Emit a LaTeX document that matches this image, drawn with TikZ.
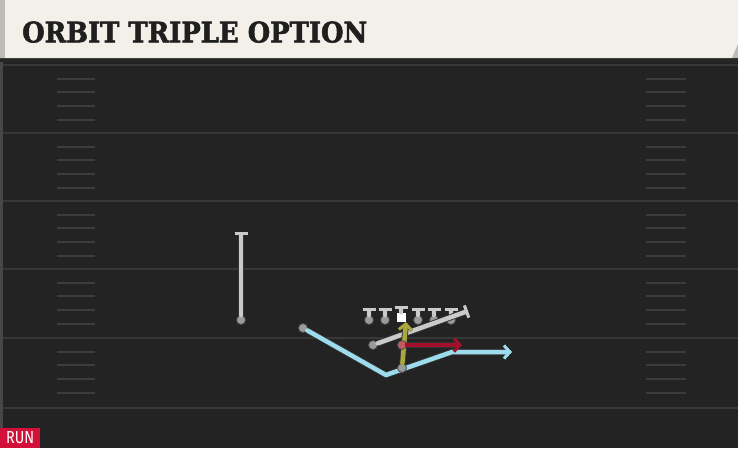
\documentclass[tikz,border=0pt]{standalone}
\usepackage{fontspec}
\newfontfamily\titlefont[UprightFont={* Bold}, FakeBold=2]{DejaVu Serif}
\newfontfamily\tagfont{Fira Sans}
\usetikzlibrary{arrows.meta}
\definecolor{fieldgray}{HTML}{232323}
\definecolor{yardline}{HTML}{373737}
\definecolor{hashgray}{HTML}{3C3C3C}
\definecolor{headcream}{HTML}{F3F0EA}
\definecolor{headedge}{HTML}{BDBBB5}
\definecolor{routeblue}{HTML}{9CDCEC}
\definecolor{routered}{HTML}{A30F2A}
\definecolor{routeolive}{HTML}{A9A73E}
\definecolor{blockgray}{HTML}{CACACA}
\definecolor{dotgray}{HTML}{9B9B9B}
\definecolor{runred}{HTML}{D3103A}
\tikzstyle{player} = [circle, fill=dotgray, draw=black!70, line width=0.8pt, inner sep=0pt, minimum size=9pt]
\tikzstyle{snapper} = [rectangle, fill=white, inner sep=0pt, minimum size=9pt]
\tikzstyle{hash} = [draw=hashgray, line width=1.5pt]
\tikzset{
  route/.style ={draw, line width=4.5pt, line cap=round, preaction={draw=black!80, line width=6.3pt}},
  block/.style ={route, color=blockgray, -{Bar[width=13pt,line width=3pt]}},
  run/.style ={route, -{Straight Barb[length=6pt,width=13pt,line width=3pt]}}
}

\begin{document}
\begin{tikzpicture}[x=1pt, y=-1pt]
   \useasboundingbox (0,0) rectangle (738,448);
   % field and header
   \fill [fieldgray] (0,58) rectangle (738,448);
   \fill [black!72] (0,58) rectangle (3,448);
   \fill [black!85] (0,57) rectangle (738,62);
   \fill [headcream] (0,0) -- (738,0) -- (738,44) -- (732,58) -- (0,58) -- cycle;
   \fill [headedge] (0,0) rectangle (5,58);
   \fill [headedge] (738,44) -- (738,58) -- (732,58) -- cycle;
   \node [anchor=south west, inner sep=0pt, text=black!88] (title) at (22,43)
      {\resizebox{345pt}{21pt}{\titlefont ORBIT TRIPLE OPTION}};
   % yard lines and hash marks
   \foreach \y in {65,133,201,269,338,408}
      \draw [yardline, line width=2pt] (3,\y) -- (738,\y);
   \foreach \y in {65,133,201,269,338}
      \foreach \d in {14,27,41,55} {
         \draw [hash] (57,\y+\d) -- (95,\y+\d);
         \draw [hash] (646,\y+\d) -- (686,\y+\d);
      }
   % receiver
   \node [player] (wr) at (241,320) {};
   \coordinate (wr_b) at (241,232);
   \path [block] (wr) -- (wr_b);
   % line
   \foreach \n/\x in {lt/369,lg/385,rg/418,rt/434,te/451} {
      \node [player] (\n) at (\x,320) {};
      \coordinate (\n_b) at (\x,308);
      \path [block] (\n) -- (\n_b);
   }
   \node [snapper] (c) at (401,317) {};
   \coordinate (c_b) at (401,306);
   \path [block] (c) -- (c_b);
   % wing block
   \node [player] (wing) at (373,345) {};
   \coordinate (wing_b) at (468,311);
   \path [block] (wing) -- (wing_b);
   % orbit motion
   \node [player] (slot) at (303,328) {};
   \coordinate (slot_dip) at (386,375);
   \coordinate (slot_turn) at (452,352);
   \coordinate (slot_end) at (512,352);
   \path [run, color=routeblue, line join=round] (slot) -- (slot_dip) -- (slot_turn) -- (slot_end);
   % dive and keep
   \node [player] (rb) at (402,368) {};
   \coordinate (rb_end) at (406,322);
   \path [run, color=routeolive] (rb) -- (rb_end);
   \node [player, fill=red!40!dotgray] (qb) at (402,345) {};
   \coordinate (qb_end) at (462,345);
   \path [run, color=routered] (qb) -- (qb_end);
   % tag
   \fill [runred] (0,428) rectangle (40,448);
   \node [anchor=south west, text=white, inner sep=0pt] (run_tag) at (6,444)
      {\resizebox{28pt}{12pt}{\tagfont RUN}};
\end{tikzpicture}
\end{document}
